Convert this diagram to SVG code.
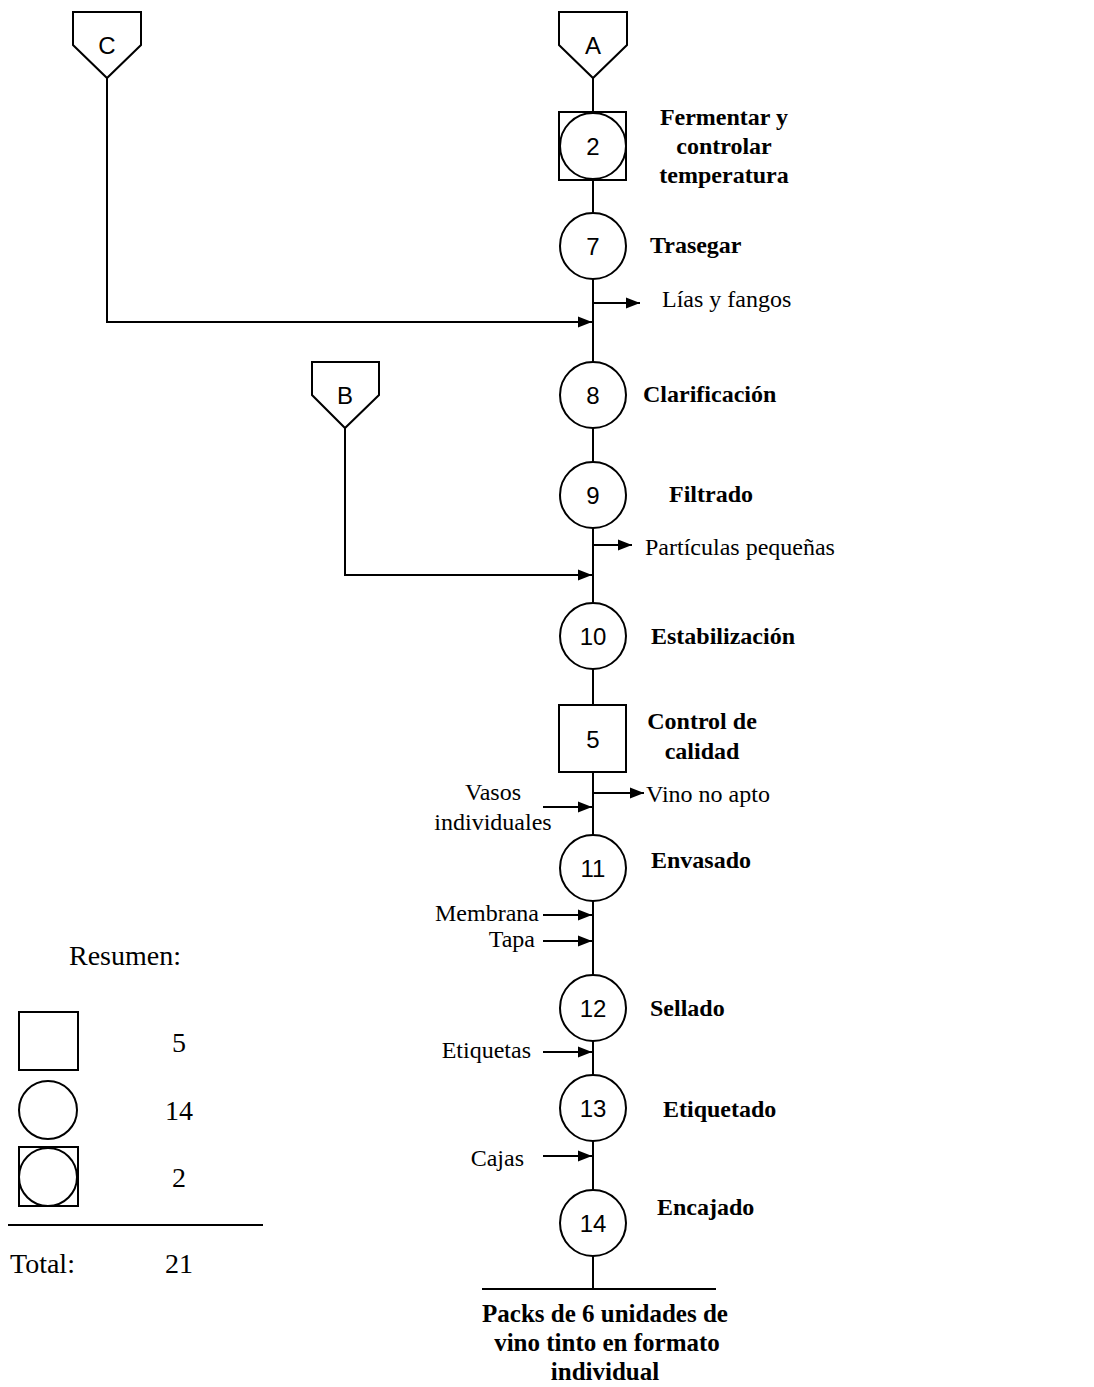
<svg xmlns="http://www.w3.org/2000/svg" width="1094" height="1387" viewBox="0 0 1094 1387">
<style>
.s{fill:#fff;stroke:#000;stroke-width:2}
.l{fill:none;stroke:#000;stroke-width:2}
.n{font-family:"Liberation Sans",Arial,sans-serif;font-size:24px;text-anchor:middle;dominant-baseline:central}
.b{font-family:"Liberation Serif","Times New Roman",serif;font-size:24px;font-weight:bold}
.p{font-family:"Liberation Serif","Times New Roman",serif;font-size:25px;font-weight:bold;text-anchor:middle}
.t{font-family:"Liberation Serif","Times New Roman",serif;font-size:24px}
.g{font-family:"Liberation Serif","Times New Roman",serif;font-size:28px}
.c{text-anchor:middle}
.e{text-anchor:end}
</style>
<defs>
<marker id="ah" markerWidth="14" markerHeight="12" refX="14" refY="6" orient="auto" markerUnits="userSpaceOnUse">
<path d="M0,0.5 L14,6 L0,11.5 z" fill="#000"/>
</marker>
</defs>
<rect width="1094" height="1387" fill="#fff"/>
<g id="connectors">
<line class="l" x1="593" y1="78" x2="593" y2="1289"/>
<polyline class="l" points="107,78 107,322 592,322" marker-end="url(#ah)"/>
<polyline class="l" points="345,428 345,575 592,575" marker-end="url(#ah)"/>
<line class="l" x1="593" y1="303" x2="640" y2="303" marker-end="url(#ah)"/>
<line class="l" x1="593" y1="545" x2="632" y2="545" marker-end="url(#ah)"/>
<line class="l" x1="593" y1="793" x2="644" y2="793" marker-end="url(#ah)"/>
<line class="l" x1="543" y1="807" x2="592" y2="807" marker-end="url(#ah)"/>
<line class="l" x1="543" y1="915" x2="592" y2="915" marker-end="url(#ah)"/>
<line class="l" x1="543" y1="941" x2="592" y2="941" marker-end="url(#ah)"/>
<line class="l" x1="543" y1="1052" x2="592" y2="1052" marker-end="url(#ah)"/>
<line class="l" x1="543" y1="1156" x2="592" y2="1156" marker-end="url(#ah)"/>
<line class="l" x1="482" y1="1289" x2="716" y2="1289"/>
</g>
<g id="conn-C"><polygon class="s" points="73,12 141,12 141,45 107,78 73,45"/><text class="n" x="107" y="45">C</text></g>
<g id="conn-A"><polygon class="s" points="559,12 627,12 627,45 593,78 559,45"/><text class="n" x="593" y="45">A</text></g>
<g id="conn-B"><polygon class="s" points="312,362 379,362 379,395 345,428 312,395"/><text class="n" x="345" y="395">B</text></g>
<g id="op2"><rect class="s" x="559" y="112" width="67" height="68"/><circle class="s" cx="593" cy="146" r="33"/><text class="n" x="593" y="146">2</text>
<text class="b c" x="724" y="125">Fermentar y</text><text class="b c" x="724" y="154">controlar</text><text class="b c" x="724" y="183">temperatura</text></g>
<g id="op7"><circle class="s" cx="593" cy="246" r="33"/><text class="n" x="593" y="246">7</text><text class="b" x="650" y="253">Trasegar</text></g>
<text class="t" x="662" y="307">Lías y fangos</text>
<g id="op8"><circle class="s" cx="593" cy="395" r="33"/><text class="n" x="593" y="395">8</text><text class="b" x="643" y="402">Clarificación</text></g>
<g id="op9"><circle class="s" cx="593" cy="495" r="33"/><text class="n" x="593" y="495">9</text><text class="b" x="669" y="502">Filtrado</text></g>
<text class="t" x="645" y="555">Partículas pequeñas</text>
<g id="op10"><circle class="s" cx="593" cy="636" r="33"/><text class="n" x="593" y="636">10</text><text class="b" x="651" y="644">Estabilización</text></g>
<g id="insp5"><rect class="s" x="559" y="705" width="67" height="67"/><text class="n" x="593" y="739">5</text>
<text class="b c" x="702" y="729">Control de</text><text class="b c" x="702" y="759">calidad</text></g>
<text class="t" x="646" y="802">Vino no apto</text>
<text class="t c" x="493" y="800">Vasos</text><text class="t c" x="493" y="830">individuales</text>
<g id="op11"><circle class="s" cx="593" cy="868" r="33"/><text class="n" x="593" y="868">11</text><text class="b" x="651" y="868">Envasado</text></g>
<text class="t e" x="539" y="921">Membrana</text>
<text class="t e" x="535" y="947">Tapa</text>
<g id="op12"><circle class="s" cx="593" cy="1008" r="33"/><text class="n" x="593" y="1008">12</text><text class="b" x="650" y="1016">Sellado</text></g>
<text class="t e" x="531" y="1058">Etiquetas</text>
<g id="op13"><circle class="s" cx="593" cy="1108" r="33"/><text class="n" x="593" y="1108">13</text><text class="b" x="663" y="1117">Etiquetado</text></g>
<text class="t e" x="524" y="1166">Cajas</text>
<g id="op14"><circle class="s" cx="593" cy="1223" r="33"/><text class="n" x="593" y="1223">14</text><text class="b" x="657" y="1215">Encajado</text></g>
<g id="product"><text class="p" x="605" y="1322">Packs de 6 unidades de</text><text class="p" x="607" y="1351">vino tinto en formato</text><text class="p" x="605" y="1380">individual</text></g>
<g id="legend">
<text class="g c" x="125" y="965">Resumen:</text>
<rect class="s" x="19" y="1012" width="59" height="58"/><text class="g c" x="179" y="1052">5</text>
<circle class="s" cx="48" cy="1110" r="29"/><text class="g c" x="179" y="1120">14</text>
<rect class="s" x="19" y="1147" width="59" height="59"/><circle class="s" cx="48" cy="1177" r="29"/><text class="g c" x="179" y="1187">2</text>
<line class="l" x1="8" y1="1225" x2="263" y2="1225"/>
<text class="g" x="10" y="1273">Total:</text><text class="g c" x="179" y="1273">21</text>
</g>
</svg>
